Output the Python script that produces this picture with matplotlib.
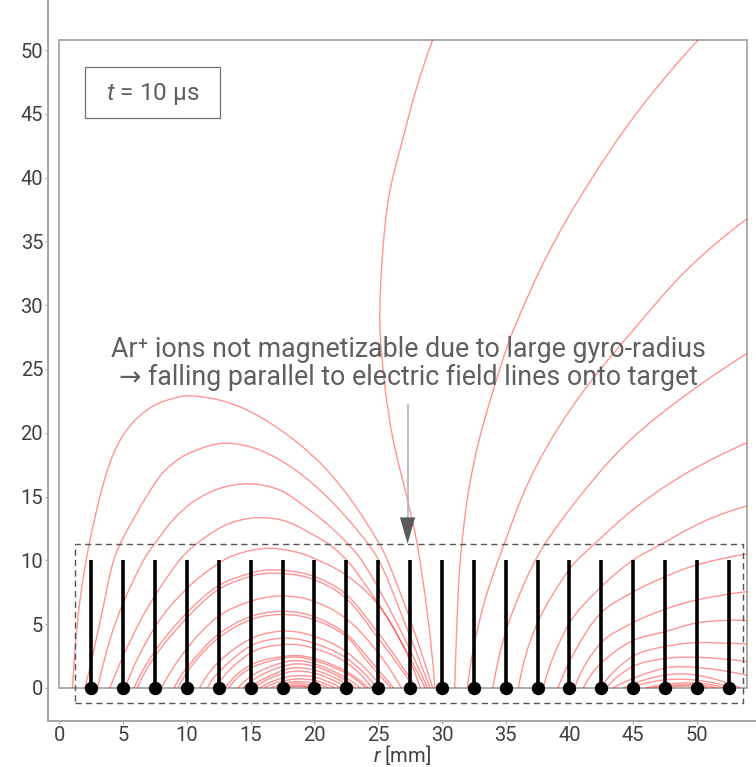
import matplotlib
matplotlib.use("Agg")
import matplotlib.pyplot as plt
import numpy as np
from matplotlib.patches import PathPatch, Rectangle
from matplotlib.path import Path

plt.rcParams['font.family'] = ['Roboto', 'DejaVu Sans']
plt.rcParams['mathtext.fontset'] = 'custom'
plt.rcParams['mathtext.it'] = 'Roboto:italic'
plt.rcParams['mathtext.rm'] = 'Roboto'

# field lines, (r, z) in mm
outer_domes = [
    [(1.03, 0), (1.22, 3), (1.61, 6.9), (2.34, 11.3), (3.44, 16.0), (4.48, 18.9), (5.79, 20.85), (7.36, 22.1),
     (8.93, 22.7), (10.24, 22.9), (12.6, 22.55), (14.68, 21.8), (16.77, 20.6), (18.9, 19.04), (20.96, 17.1),
     (23.04, 14.5), (25.3, 10.9), (26.4, 8.3), (27.8, 4.5), (29.27, 0)],
    [(2.0, 0), (2.65, 2.74), (3.44, 6.4), (4.35, 10.3), (6.0, 13.6), (7.88, 16.6), (8.9, 17.6), (9.97, 18.3), (11.8, 19.0),
     (13.37, 19.18), (15.7, 18.65), (18.34, 17.2), (20.96, 15), (23.57, 12.1), (25.1, 9.9), (27, 5.3), (29.06, 0)],
    [(3.0, 0), (3.96, 3.8), (5.0, 6.66), (6.58, 10), (7.49, 11.34), (8.93, 13.2), (10.5, 14.6), (12.59, 15.65),
     (14.94, 16), (17.3, 15.5), (19.4, 14.1), (21.5, 12.4), (23.7, 10.0), (26.5, 5), (28.85, 0)],
    [(3.96, 0), (5, 2.5), (6.8, 6.1), (9.32, 9.9), (10.63, 11.2), (12.59, 12.55), (14.16, 13.15), (15.99, 13.35),
     (17.82, 13.04), (19.91, 12), (21.48, 11.0), (23.05, 9.4), (26, 5.0), (28.67, 0)],
    [(5.14, 0), (7.5, 4.8), (10, 7.8), (12.85, 10), (14.68, 10.7), (16.5, 10.95), (18.34, 10.7), (19.65, 10.3),
     (22.4, 8.9), (24.9, 6.65), (26.8, 3.6), (28.3, 0)],
]
middle_domes = [
    [(5.84, 0), (7.5, 2.9), (10, 5.9), (12.45, 8.0), (15, 9.0), (16.8, 9.25), (19.65, 8.85), (22.4, 7.4), (25, 4.3), (26.6, 2.1), (28, 0)],
    [(6.1, 0), (7.5, 2.5), (10, 5.5), (12.45, 7.7), (15, 8.75), (16.8, 9.0), (19.65, 8.6), (22.4, 7.1), (25, 3.9), (26.5, 1.9), (27.8, 0)],
    [(8, 0), (10, 3.1), (12.45, 5.6), (15, 6.8), (17.2, 7.2), (19.65, 6.9), (22.4, 5.5), (24.8, 3.0), (26.8, 0)],
    [(9, 0), (10, 1.6), (12.45, 4.2), (15, 5.6), (17.3, 6.0), (19.65, 5.7), (22.4, 4.3), (24.5, 2.0), (26.2, 0)],
    [(9.3, 0), (10.5, 1.9), (12.45, 3.9), (15, 5.35), (17.3, 5.75), (19.65, 5.45), (22.4, 4.1), (24.3, 1.9), (26, 0)],
    [(11, 0), (12.45, 2.0), (15, 3.85), (17.4, 4.45), (19.65, 4.15), (22.4, 2.9), (25.3, 0)],
    [(11.6, 0), (12.45, 1.2), (15, 3.3), (17.5, 3.9), (19.65, 3.6), (22.4, 2.4), (24.9, 0)],
    [(12.2, 0), (15, 2.75), (17.6, 3.4), (19.65, 3.2), (22.4, 2.05), (24.5, 0)],
]
inner_domes = [
    [(13, 0), (15, 1.8), (17.8, 2.5), (19.65, 2.4), (22.4, 1.35), (24.2, 0)],
    [(13.3, 0), (15, 1.55), (18, 2.4), (19.65, 2.25), (22.4, 1.2), (24, 0)],
    [(14, 0), (15.5, 1.2), (18, 2.1), (19.65, 2.0), (22, 1.05), (23.6, 0)],
    [(14.4, 0), (16, 1.1), (18.2, 1.85), (20, 1.7), (22, 0.85), (23.2, 0)],
    [(14.9, 0), (16, 0.7), (18.2, 1.55), (20, 1.4), (21.8, 0.7), (22.9, 0)],
    [(15.3, 0), (16.5, 0.75), (18.3, 1.3), (20, 1.15), (21.6, 0.55), (22.5, 0)],
    [(15.7, 0), (16.8, 0.55), (18.4, 0.95), (20, 0.85), (21.5, 0.3), (22, 0)],
    [(16.1, 0), (17, 0.4), (18.5, 0.7), (20, 0.6), (21, 0.25), (21.6, 0)],
    [(16.6, 0), (17.5, 0.33), (18.5, 0.5), (20, 0.38), (21.1, 0)],
    [(17, 0), (18, 0.28), (18.6, 0.35), (19.6, 0.25), (20.6, 0)],
    [(17.4, 0), (18.6, 0.2), (20.1, 0)],
    [(17.8, 0), (18.7, 0.12), (19.7, 0)],
]
center_line = [(29.45, 0), (28.9, 5.5), (28.05, 11.3), (27.3, 14.73), (26.18, 19.4), (25.53, 23.6), (25.14, 28.05),
               (25.2, 31.7), (25.5, 35.9), (25.92, 39), (26.97, 43.2), (28.0, 47), (29.27, 50.8)]
open_lines = [
    [(31, 0), (31.3, 7.95), (31.54, 11.07), (32.06, 15.3), (32.98, 19.7), (34.68, 25.45), (35.6, 28.05),
     (38.2, 33.8), (41.35, 39.3), (45.27, 45.05), (50.1, 50.8)],
    [(32, 0), (32.5, 3.25), (33.4, 7), (34.7, 10.8), (36.64, 15.8), (38.7, 19.7), (41.35, 23.6), (45, 28.05), (49.2, 32.76), (53.9, 36.75)],
    [(34, 0), (35, 4.4), (36.5, 8.3), (37.94, 11.07), (40.56, 14.7), (43.96, 18.65), (47.9, 22.05), (53.9, 26.2)],
    [(36, 0), (37.4, 4.9), (39.95, 9.25), (41.6, 10.96), (45.27, 14.2), (49.2, 16.85), (53.9, 19.2)],
    [(37.94, 0), (39.95, 5.0), (42.46, 7.9), (44.95, 10.0), (46.84, 11.07), (50.5, 13.03), (53.9, 14.26)],
    [(39.1, 0), (40.5, 3.0), (42.44, 5.85), (44.95, 7.5), (47.45, 8.7), (50, 9.65), (53.9, 10.5)],
    [(40.4, 0), (42.44, 3.5), (44.95, 5.1), (47.45, 6.15), (50, 6.9), (53.9, 7.55)],
    [(41.1, 0), (42.44, 1.9), (44.95, 3.7), (47.45, 4.4), (50, 5.1), (52.45, 5.3), (53.9, 5.28)],
    [(42.4, 0), (44.95, 2.46), (47.45, 3.24), (50, 3.55), (52.45, 3.5), (53.9, 3.45)],
    [(42.9, 0), (44.95, 1.67), (47.45, 2.3), (50, 2.4), (53.9, 2.07)],
    [(43.4, 0), (47.45, 1.55), (50, 1.6), (53.9, 1.0)],
]
right_domes = [
    [(44.2, 0), (47.45, 1.0), (50, 1.0), (53.4, 0)],
    [(44.7, 0), (47.45, 0.63), (50, 0.6), (52.8, 0)],
    [(46, 0), (49.3, 0.4), (52.2, 0)],
    [(46.5, 0), (49.3, 0.25), (51.5, 0)],
    [(47, 0), (49.2, 0.15), (50.8, 0)],
]
electrode_r = [2.5, 5, 7.5, 10, 12.5, 15, 17.5, 20, 22.5, 25, 27.5, 30, 32.5, 35, 37.5, 40, 42.5, 45, 47.5, 50, 52.5]
electrode_height = 10
r_ticks = [0, 5, 10, 15, 20, 25, 30, 35, 40, 45, 50]
z_ticks = [0, 5, 10, 15, 20, 25, 30, 35, 40, 45, 50]


def smooth_path(points):
    # curve through the read points, tangents from the neighbours
    p = np.array(points, dtype=float)
    t = np.zeros_like(p)
    t[1:-1] = p[2:] - p[:-2]
    t[1:-1] /= np.linalg.norm(t[1:-1], axis=1, keepdims=True)
    d0 = (p[1] - p[0]) / np.linalg.norm(p[1] - p[0])
    d1 = (p[-1] - p[-2]) / np.linalg.norm(p[-1] - p[-2])
    t[0] = 2 * d0 - t[1]
    t[-1] = 2 * d1 - t[-2]
    verts = [p[0]]
    codes = [Path.MOVETO]
    for i in range(len(p) - 1):
        seg = np.linalg.norm(p[i + 1] - p[i])
        verts += [p[i] + t[i] * seg / 3, p[i + 1] - t[i + 1] * seg / 3, p[i + 1]]
        codes += [Path.CURVE4] * 3
    return Path(verts, codes)


fig = plt.figure(figsize=(7.56, 7.67), dpi=100)
ax = fig.add_axes([48 / 756, 46 / 767, 708 / 756, 721 / 767])
ax.set_xlim(-0.9, 54.63)
ax.set_ylim(-2.59, 53.92)

grey = '#a6a6a6'
for side in ['top', 'right']:
    ax.spines[side].set_visible(False)
for side in ['left', 'bottom']:
    ax.spines[side].set_color(grey)
    ax.spines[side].set_linewidth(1.4)

ax.add_patch(Rectangle((0, 0), 53.9, 50.8, fill=False, edgecolor=grey, linewidth=1.3, zorder=1))

for group in [outer_domes, middle_domes, inner_domes, [center_line], open_lines, right_domes]:
    for line in group:
        ax.add_patch(PathPatch(smooth_path(line), fill=False, edgecolor='#ff0000', alpha=0.42, linewidth=1.0, zorder=2))

ax.vlines(electrode_r, 0, electrode_height, color='black', linewidth=2.6, zorder=3)
ax.plot(electrode_r, [0] * len(electrode_r), 'o', color='black', markersize=9.6, markeredgewidth=0, zorder=4, clip_on=False)

ax.add_patch(Rectangle((1.22, -1.18), 52.38, 12.48, fill=False, edgecolor='#555555', linewidth=1.0,
                       linestyle=(0, (4.5, 3)), zorder=5))

ax.add_patch(Rectangle((2.0, 44.67), 10.6, 4.0, fill=False, edgecolor='#707070', linewidth=0.9, zorder=5))
ax.text(7.33, 46.55, '$\\mathit{t}$ = 10 µs', ha='center', va='center', fontsize=17.5, color='#5f5f5f')

ax.plot([27.3, 27.3], [22.2, 13.4], color='#b4b4b4', linewidth=1.2, zorder=5)
ax.annotate('', xy=(27.3, 11.3), xytext=(27.3, 13.4), zorder=6,
            arrowprops=dict(arrowstyle='-|>,head_length=1.9,head_width=0.55', color='#5a5a5a',
                            shrinkA=0, shrinkB=0, linewidth=0, mutation_scale=10))

ax.text(27.37, 25.42, 'Ar⁺ ions not magnetizable due to large gyro-radius\n→ falling parallel to electric field lines onto target',
        ha='center', va='center', fontsize=19.3, color='#5f5f5f', linespacing=1.08, zorder=6)

ax.set_xticks(r_ticks)
ax.set_yticks(z_ticks)
ax.tick_params(axis='both', length=2.5, width=0.8, color=grey, labelsize=14.5, labelcolor='#404040', pad=1)
ax.set_xlabel('$\\mathit{r}$ [mm]', fontsize=14.5, color='#404040', labelpad=-1.5)

fig.savefig('out.png', dpi=100)
